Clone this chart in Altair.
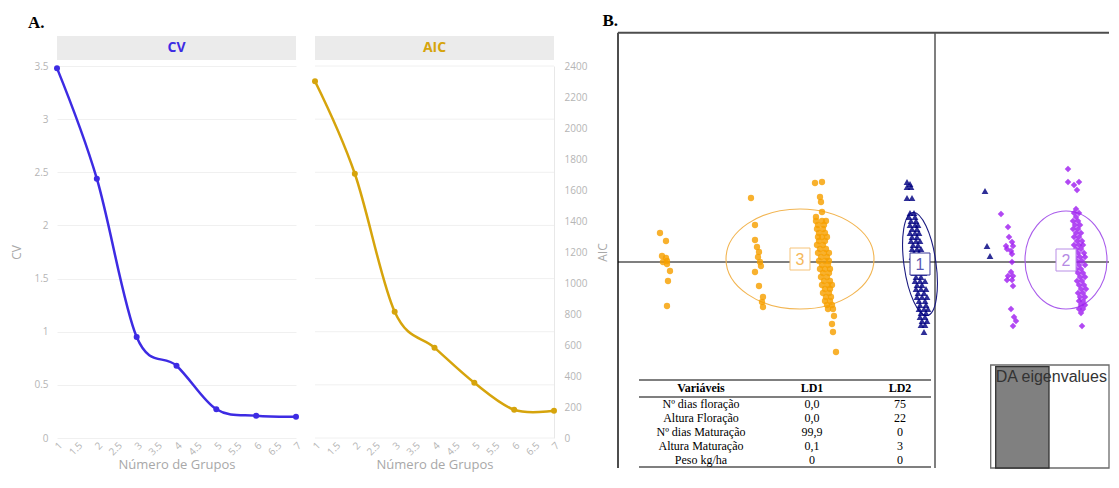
import altair as alt
import pandas as pd

# ---------------- Panel A data ----------------
grupos = [1, 2, 3, 4, 5, 6, 7]
cv_vals = [3.48, 2.44, 0.95, 0.68, 0.27, 0.21, 0.20]
aic_vals = [2302, 1705, 815, 583, 356, 182, 176]
x_tick_vals = [1, 1.5, 2, 2.5, 3, 3.5, 4, 4.5, 5, 5.5, 6, 6.5, 7]
cv_tick_vals = [0, 0.5, 1, 1.5, 2, 2.5, 3, 3.5]
aic_tick_vals = [0, 200, 400, 600, 800, 1000, 1200, 1400, 1600, 1800, 2000, 2200, 2400]
aic_grid_vals = [0, 342.9, 685.7, 1028.6, 1371.4, 1714.3, 2057.1, 2400]

# ---------------- Panel B data (LD1, LD2 scores) ----------------
g3_ld1 = [-27.5, -26.9, -27.3, -26.9, -26.8, -27.2, -26.8, -26.5, -26.7, -26.8,
          -18.4, -18.0, -18.0, -17.8, -17.6, -17.7, -17.5, -17.4, -18.0, -17.6, -17.2, -17.3, -17.2,
          -12.0, -11.3, -11.5, -11.4, -11.3, -11.9,
          -11.9, -11.3, -10.9, -11.7, -11.1, -11.8, -11.2, -11.6, -11.0,
          -11.7, -11.3, -10.8, -11.6, -11.0, -11.8, -11.2, -11.5, -10.9,
          -11.7, -11.1, -10.6, -11.4, -10.8, -11.6, -11.0, -10.6, -11.3, -10.7,
          -11.5, -11.0, -10.5, -11.2, -10.6, -11.4, -10.8, -11.1, -10.5,
          -11.3, -10.7, -10.3, -11.0, -10.5, -11.2, -10.6, -10.9, -10.4,
          -11.0, -10.5, -10.8, -10.3, -10.7, -10.2,
          -10.1, -10.3, -10.2, -9.9]
g3_ld2 = [2.9, 2.1, 0.6, 0.4, 0.1, 0.0, -0.2, -0.9, -1.9, -4.4,
          6.4, 3.7, 2.2, 1.5, 1.0, 0.5, 0.0, -0.4, -1.0, -2.4, -3.5, -4.0, -4.5,
          7.9, 8.0, 6.5, 6.0, 5.0, 4.5,
          4.1, 4.1, 4.1, 3.7, 3.7, 3.3, 3.3, 2.9, 2.9,
          2.5, 2.5, 2.5, 2.1, 2.1, 1.7, 1.7, 1.3, 1.3,
          0.9, 0.9, 0.9, 0.5, 0.5, 0.1, 0.1, 0.1, -0.3, -0.3,
          -0.7, -0.7, -0.7, -1.1, -1.1, -1.5, -1.5, -1.9, -1.9,
          -2.3, -2.3, -2.3, -2.7, -2.7, -3.1, -3.1, -3.5, -3.5,
          -3.9, -3.9, -4.3, -4.3, -4.7, -4.7,
          -5.4, -6.2, -7.0, -9.0]

g1_ld1 = [-2.8, -2.5, -2.8, -2.4, -2.8, -2.3,
          -2.5, -2.1, -2.6, -2.0, -2.4, -1.9, -2.5, -2.0, -1.7, -2.3, -1.8,
          -2.5, -2.0, -1.6, -2.3, -1.8, -2.4, -1.9, -1.5, -2.2, -1.7,
          -2.3, -1.8, -1.4, -2.1, -1.6, -2.3, -1.8, -1.3, -2.1, -1.5,
          -2.2, -1.7, -1.2, -2.0, -1.4, -2.1, -1.6, -1.1, -1.9, -1.4,
          -2.0, -1.5, -1.0, -1.8, -1.3, -1.9, -1.4, -0.9, -1.7, -1.1,
          -1.8, -1.3, -0.8, -1.6, -1.0, -1.5, -0.9, -1.6, -1.1, -0.7,
          -1.4, -0.9, -1.5, -1.0, -1.3, -0.8, -1.4, -1.0, -1.1,
          5.0, 5.2, 5.5]
g1_ld2 = [8.0, 7.8, 7.5, 7.5, 6.4, 6.4,
          4.9, 4.9, 4.5, 4.5, 4.1, 4.1, 3.7, 3.7, 3.7, 3.3, 3.3,
          2.9, 2.9, 2.9, 2.5, 2.5, 2.1, 2.1, 2.1, 1.7, 1.7,
          1.3, 1.3, 1.3, 0.9, 0.9, 0.5, 0.5, 0.5, 0.1, 0.1,
          -0.3, -0.3, -0.3, -0.7, -0.7, -1.1, -1.1, -1.1, -1.5, -1.5,
          -1.9, -1.9, -1.9, -2.3, -2.3, -2.7, -2.7, -2.7, -3.1, -3.1,
          -3.5, -3.5, -3.5, -3.9, -3.9, -4.3, -4.3, -4.7, -4.7, -4.7,
          -5.1, -5.1, -5.5, -5.5, -5.9, -5.9, -6.3, -6.3, -7.0,
          7.1, 1.6, 0.6]

g2_ld1 = [6.6, 7.3, 7.4, 7.7, 7.1, 7.8, 7.2, 7.6, 7.7, 7.7, 7.6, 7.3, 7.8, 7.7, 7.2, 7.8, 7.6, 7.9, 8.1, 7.8,
          13.3, 13.3, 13.9, 14.4, 14.2,
          14.1, 13.9, 14.4, 14.1, 13.8, 14.3, 14.0, 14.5, 13.8, 14.3,
          14.1, 14.6, 13.9, 14.4, 14.2, 14.7, 13.9, 14.4, 14.8, 14.1, 14.6,
          14.3, 14.9, 14.0, 14.5, 15.0, 14.2, 14.7, 14.4, 15.0, 14.1, 14.6,
          14.3, 14.8, 14.5, 15.0, 14.2, 14.7, 14.4, 14.9, 14.6, 15.1,
          14.3, 14.8, 14.5, 15.0, 14.4, 14.8, 14.6, 15.0, 14.4, 14.8, 14.6, 14.7]
g2_ld2 = [4.8, 3.5, 2.5, 2.0, 1.6, 1.6, 1.3, 1.1, 0.8, 0.0, -1.0, -1.4, -1.4, -1.8, -1.8, -2.4, -4.7, -5.5, -5.9, -6.4,
          9.3, 8.0, 7.7, 8.0, 7.2,
          5.3, 4.9, 4.9, 4.5, 4.1, 4.1, 3.7, 3.7, 3.3, 3.3,
          2.9, 2.9, 2.5, 2.5, 2.1, 2.1, 1.7, 1.7, 1.7, 1.3, 1.3,
          0.9, 0.9, 0.5, 0.5, 0.5, 0.1, 0.1, -0.3, -0.3, -0.7, -0.7,
          -1.1, -1.1, -1.5, -1.5, -1.9, -1.9, -2.3, -2.3, -2.7, -2.7,
          -3.1, -3.1, -3.5, -3.5, -3.9, -3.9, -4.3, -4.3, -4.7, -4.7, -5.1, -6.4]

ell_grp = ["3", "1", "2"]
ell_cx = [-13.5, -1.5, 13.1]
ell_cy = [0.3, -0.2, 0.2]
ell_rx = [7.4, 1.6, 4.1]
ell_ry = [5.0, 5.2, 4.9]
ell_tilt = [0, 352, 0]

table_head = ["Variáveis", "LD1", "LD2"]
table_vars = ["Nº dias floração", "Altura Floração", "Nº dias Maturação", "Altura Maturação", "Peso kg/ha"]
table_ld1 = ["0,0", "0,0", "99,9", "0,1", "0"]
table_ld2 = ["75", "22", "0", "3", "0"]

eig_names = ["LD1"]
eig_vals = [1.0]

# ---------------- styles ----------------
FONT = "Open Sans"
SERIF = "Liberation Serif"
SANS = "Liberation Sans"
LBL = "#b5b5b5"
TTL = "#a8a8a8"
GRID = "#f0f0f0"
CV_COL = "#3d2be3"
AIC_COL = "#d6a40c"
STRIP = "#ebebeb"
FRAME = "#4d4d4d"
PW, PH = 239, 372

POINT_COLOR = {"3": "#F7A000", "1": "#000080", "2": "#A020F0"}
POINT_SHAPE = {"3": "circle", "1": "triangle-up", "2": "diamond"}
POINT_SIZE = {"3": 40, "1": 46, "2": 42}
ELL_COLOR = {"3": "#F2B552", "1": "#1a1a80", "2": "#A95CEB"}
BOX_COLOR = {"3": "#F6C47A", "1": "#3a3a9a", "2": "#B98EE6"}
TXT_COLOR = {"3": "#F5B85A", "1": "#5a5ab5", "2": "#B58AE4"}

one = pd.DataFrame({"k": [0]})


def x_axis():
    return alt.Axis(values=x_tick_vals, format=".1~f", labelAngle=-45, labelFont=FONT,
                    labelFontSize=10, labelColor=LBL, labelPadding=2, labelFlush=False,
                    labelOverlap=False, ticks=False, domain=False, grid=False,
                    title="Número de Grupos", titleFont=FONT, titleFontSize=13,
                    titleFontWeight="normal", titleColor=TTL, titlePadding=1)


xsc_A = alt.Scale(domain=[1, 7], nice=False, zero=False)


def header_layers(name, color):
    df = pd.DataFrame({"name": [name]})
    strip = alt.Chart(df).mark_rect(color=STRIP).encode(
        x=alt.value(0), x2=alt.value(PW), y=alt.value(-30), y2=alt.value(-6))
    txt = alt.Chart(df).mark_text(font=FONT, fontSize=14, fontWeight="bold", color=color,
                                  baseline="middle", align="center").encode(
        text="name:N", x=alt.value(PW / 2), y=alt.value(-18))
    return [strip, txt]


# CV panel
cv_df = pd.DataFrame({"g": grupos, "v": cv_vals})
cv_ysc = alt.Scale(domain=[0, 3.5], nice=False)
cv_yax = alt.Axis(values=cv_tick_vals, format=".1~f", labelFont=FONT, labelFontSize=10, labelColor=LBL,
                  labelPadding=9, ticks=False, domain=False, grid=True, gridColor=GRID, title="CV",
                  titleFont=FONT, titleFontSize=12, titleFontWeight="normal", titleColor=TTL, titlePadding=10)
cv_line = alt.Chart(cv_df).mark_line(color=CV_COL, strokeWidth=2.5, interpolate="cardinal").encode(
    x=alt.X("g:Q", scale=xsc_A, axis=x_axis()), y=alt.Y("v:Q", scale=cv_ysc, axis=cv_yax))
cv_pts = alt.Chart(cv_df).mark_circle(color=CV_COL, size=36, opacity=1).encode(
    x=alt.X("g:Q", scale=xsc_A, axis=x_axis()), y=alt.Y("v:Q", scale=cv_ysc, axis=cv_yax))
a_label = alt.Chart(one).mark_text(text="A.", font=SERIF, fontSize=17, fontWeight="bold", color="black",
                                   align="left", baseline="alphabetic").encode(
    x=alt.value(-29), y=alt.value(-38))
cv_plot = alt.layer(*header_layers("CV", CV_COL), a_label, cv_line, cv_pts).properties(width=PW, height=PH)

# AIC panel
aic_df = pd.DataFrame({"g": grupos, "v": aic_vals})
aic_ysc = alt.Scale(domain=[0, 2400], nice=False)
aic_yax = alt.Axis(orient="right", values=aic_tick_vals, format="d", labelFont=FONT, labelFontSize=10,
                   labelColor=LBL, labelPadding=10, ticks=False, domain=True, domainColor="#e8e8e8",
                   grid=False, title="AIC", titleAngle=270, titleFont=FONT, titleFontSize=12,
                   titleFontWeight="normal", titleColor=TTL, titlePadding=23)
aic_grid = alt.Chart(pd.DataFrame({"gv": aic_grid_vals})).mark_rule(color=GRID, strokeWidth=1).encode(
    y=alt.Y("gv:Q", scale=aic_ysc, axis=aic_yax))
aic_line = alt.Chart(aic_df).mark_line(color=AIC_COL, strokeWidth=2.5, interpolate="cardinal").encode(
    x=alt.X("g:Q", scale=xsc_A, axis=x_axis()), y=alt.Y("v:Q", scale=aic_ysc, axis=aic_yax))
aic_pts = alt.Chart(aic_df).mark_circle(color=AIC_COL, size=36, opacity=1).encode(
    x=alt.X("g:Q", scale=xsc_A, axis=x_axis()), y=alt.Y("v:Q", scale=aic_ysc, axis=aic_yax))
aic_plot = alt.layer(*header_layers("AIC", AIC_COL), aic_grid, aic_line, aic_pts).properties(
    width=PW, height=PH)

# ---------------- Panel B ----------------
W_B, H_B = 536, 402
FX = 45          # frame offset inside the panel group (px)
TOP = -33.3      # frame top above the panel group (px)
PX = 10.0        # pixels per LD unit
x_lo, y_hi = -36.2, 19.6
xsc_B = alt.Scale(domain=[x_lo, x_lo + W_B / PX], nice=False, zero=False)
ysc_B = alt.Scale(domain=[y_hi - H_B / PX, y_hi], nice=False, zero=False)


def bx(field):
    return alt.X(field, scale=xsc_B, axis=None)


def by(field):
    return alt.Y(field, scale=ysc_B, axis=None)


pts = pd.DataFrame({
    "ld1": g3_ld1 + g1_ld1 + g2_ld1,
    "ld2": g3_ld2 + g1_ld2 + g2_ld2,
    "grp": ["3"] * len(g3_ld1) + ["1"] * len(g1_ld1) + ["2"] * len(g2_ld1),
})
pts["col"] = pts["grp"].map(POINT_COLOR)
pts["shp"] = pts["grp"].map(POINT_SHAPE)
pts["sz"] = pts["grp"].map(POINT_SIZE)

K = 0.5523


def ellipse_path(r):
    a, b = K, K * r
    return (f"M 1 0 C 1 {b:.4f} {a:.4f} {r:.4f} 0 {r:.4f} "
            f"C {-a:.4f} {r:.4f} -1 {b:.4f} -1 0 "
            f"C -1 {-b:.4f} {-a:.4f} {-r:.4f} 0 {-r:.4f} "
            f"C {a:.4f} {-r:.4f} 1 {-b:.4f} 1 0 Z")


ell = pd.DataFrame({"grp": ell_grp, "cx": ell_cx, "cy": ell_cy, "rx": ell_rx, "ry": ell_ry, "tilt": ell_tilt})
ell["path"] = [ellipse_path(ry / rx) for rx, ry in zip(ell_rx, ell_ry)]
ell["sz"] = [(2 * rx * PX) ** 2 for rx in ell_rx]
ell["ecol"] = ell["grp"].map(ELL_COLOR)
ell["bcol"] = ell["grp"].map(BOX_COLOR)
ell["tcol"] = ell["grp"].map(TXT_COLOR)

BOX_PATH = "M -0.909 -1 L 0.909 -1 L 0.909 1 L -0.909 1 Z"

frame_top = alt.Chart(one).mark_rule(color=FRAME, strokeWidth=2).encode(
    x=alt.value(FX), x2=alt.value(W_B), y=alt.value(TOP))
frame_left = alt.Chart(one).mark_rule(color=FRAME, strokeWidth=2).encode(
    x=alt.value(FX), y=alt.value(TOP), y2=alt.value(H_B))
vrule = alt.Chart(one).mark_rule(color="#555555", strokeWidth=1.5).encode(
    x=alt.XDatum(0, type="quantitative", scale=xsc_B, axis=None), y=alt.value(TOP), y2=alt.value(H_B))
hrule = alt.Chart(one).mark_rule(color="black", strokeWidth=1.1).encode(
    y=alt.YDatum(0, type="quantitative", scale=ysc_B, axis=None), x=alt.value(FX), x2=alt.value(W_B))
ellipses = alt.Chart(ell).mark_point(filled=False, strokeWidth=1.1, opacity=1).encode(
    x=bx("cx:Q"), y=by("cy:Q"),
    shape=alt.Shape("path:N", scale=None), size=alt.Size("sz:Q", scale=None),
    angle=alt.Angle("tilt:Q", scale=None), color=alt.Color("ecol:N", scale=None))
points = alt.Chart(pts).mark_point(filled=True, opacity=0.82, strokeWidth=0).encode(
    x=bx("ld1:Q"), y=by("ld2:Q"),
    shape=alt.Shape("shp:N", scale=None), size=alt.Size("sz:Q", scale=None),
    color=alt.Color("col:N", scale=None))
boxes = alt.Chart(ell).mark_point(shape=BOX_PATH, size=484, filled=True, fill="white",
                                  strokeWidth=1, opacity=1).encode(
    x=bx("cx:Q"), y=by("cy:Q"), stroke=alt.Stroke("bcol:N", scale=None))
box_txt = alt.Chart(ell).mark_text(font=SANS, fontSize=16, baseline="middle", align="center", dy=1).encode(
    x=bx("cx:Q"), y=by("cy:Q"), text="grp:N", color=alt.Color("tcol:N", scale=None))
b_label = alt.Chart(one).mark_text(text="B.", font=SERIF, fontSize=17, fontWeight="bold", color="black",
                                   align="left", baseline="alphabetic").encode(
    x=alt.value(29.5), y=alt.value(-40))
core = alt.layer(frame_top, frame_left, vrule, hrule, ellipses, points, boxes, box_txt, b_label)

# table of variable contributions
row_sc = alt.Scale(type="point", domain=[1, 2, 3, 4, 5], range=[338, 394], padding=0)
col_x = [128, 239, 327]
body_df = pd.DataFrame({"r": [1, 2, 3, 4, 5], "c0": table_vars, "c1": table_ld1, "c2": table_ld2})
tab_layers = []
for i, cname in enumerate(["c0", "c1", "c2"]):
    tab_layers.append(alt.Chart(pd.DataFrame({"h": [table_head[i]]})).mark_text(
        font=SERIF, fontSize=12, fontWeight="bold", color="black", baseline="middle", align="center").encode(
        text="h:N", x=alt.value(col_x[i]), y=alt.value(322)))
    tab_layers.append(alt.Chart(body_df).mark_text(font=SERIF, fontSize=12, color="black",
                                                   baseline="middle", align="center").encode(
        y=alt.Y("r:O", scale=row_sc, axis=None), text=f"{cname}:N", x=alt.value(col_x[i])))
for yy in [314, 331, 401]:
    tab_layers.append(alt.Chart(one).mark_rule(color="black", strokeWidth=1.2).encode(
        x=alt.value(66), x2=alt.value(358), y=alt.value(yy)))
table = alt.layer(*tab_layers)

# eigenvalue inset
eig_df = pd.DataFrame({"ld": eig_names, "eig": eig_vals})
inset_box = alt.Chart(one).mark_rect(fill="white", stroke="#6b6b6b", strokeWidth=1.3).encode(
    x=alt.value(417.7), x2=alt.value(W_B), y=alt.value(299), y2=alt.value(H_B))
inset_bar = alt.Chart(eig_df).mark_bar(color="#808080", stroke="#333333", strokeWidth=1.3).encode(
    x=alt.X("ld:N", scale=alt.Scale(type="band", range=[422.7, 476], paddingInner=0, paddingOuter=0), axis=None),
    y=alt.Y("eig:Q", scale=alt.Scale(domain=[0, 1], range=[H_B, 300.7]), axis=None))
inset_txt = alt.Chart(one).mark_text(text="DA eigenvalues", font=SANS, fontSize=16, color="#333333",
                                     align="left", baseline="alphabetic").encode(
    x=alt.value(422.7), y=alt.value(315.5))
inset = alt.layer(inset_box, inset_bar, inset_txt)

B_panel = alt.layer(core, table, inset).resolve_scale(x="independent", y="independent").properties(
    width=W_B, height=H_B)

chart = alt.hconcat(cv_plot, aic_plot, B_panel, spacing=19, bounds="flush").configure_view(
    strokeWidth=0).properties(padding={"left": 2, "top": 4, "right": 0, "bottom": 0})

chart.save("out.html", embed_options={"renderer": "svg", "actions": False})
